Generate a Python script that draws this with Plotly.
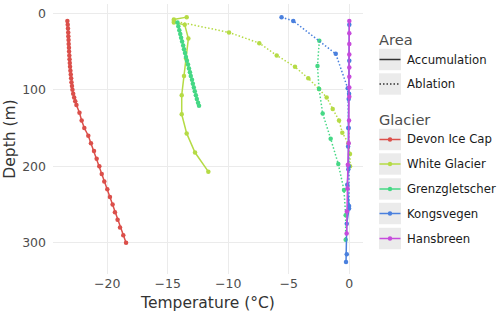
import plotly.graph_objects as go

# ---------------- data ----------------
glaciers = ["Devon Ice Cap", "White Glacier", "Grenzgletscher", "Kongsvegen", "Hansbreen"]
glacier_colors = ["#DB4F4A", "#B5DB45", "#45D885", "#4A80DE", "#C64BDC"]

devon_acc_depth = [10, 15, 20, 25, 30, 35, 40, 45, 50, 55, 60, 65, 70, 75, 80, 85, 90, 95, 100, 105,
                   110, 115, 120, 130, 140, 150, 160, 170, 180, 190, 200, 210, 220, 230, 240, 250,
                   260, 270, 280, 290, 300]
devon_acc_temp = [-23.30, -23.27, -23.25, -23.23, -23.22, -23.20, -23.19, -23.17, -23.16, -23.14,
                  -23.12, -23.10, -23.08, -23.05, -23.02, -22.99, -22.96, -22.92, -22.88, -22.82,
                  -22.74, -22.65, -22.55, -22.30, -22.12, -21.90, -21.57, -21.35, -21.10, -20.88,
                  -20.66, -20.46, -20.25, -20.00, -19.78, -19.56, -19.37, -19.15, -18.95, -18.68,
                  -18.45]

white_acc_depth = [5, 8, 12, 15, 33, 59, 82, 107, 132, 157, 182, 207]
white_acc_temp = [-13.44, -14.5, -14.5, -13.6, -13.3, -13.5, -13.66, -13.85, -13.85, -13.44, -12.75, -11.65]
white_abl_depth = [10, 25, 39, 55, 70, 85, 99, 110, 125, 140, 156, 170, 184, 200]
white_abl_temp = [-14.5, -9.94, -7.44, -6.0, -4.49, -3.39, -2.5, -1.87, -1.37, -0.85, -0.58, -0.08, 0.06, 0.06]

grenz_acc_depth = [12, 17, 22, 27, 32, 37, 42, 47, 52, 57, 62, 67, 72, 77, 82, 87, 92, 97, 102, 107,
                   112, 117, 121]
grenz_acc_temp = [-14.2, -14.13, -14.05, -13.97, -13.9, -13.82, -13.73, -13.66, -13.58, -13.5, -13.42,
                  -13.33, -13.25, -13.17, -13.1, -13.0, -12.93, -12.85, -12.77, -12.68, -12.6, -12.5,
                  -12.42]
grenz_abl_depth = [36, 69, 99, 131, 164, 197, 231, 264, 296]
grenz_abl_temp = [-2.48, -2.63, -2.5, -2.2, -1.54, -0.91, -0.44, -0.3, -0.3]

kong_acc_depth = [15, 62, 105, 112, 150, 174, 204, 224, 255, 275, 315, 325]
kong_acc_temp = [0.0, 0.0, -0.02, -0.05, -0.08, -0.1, -0.08, -0.17, -0.02, -0.21, -0.21, -0.27]
kong_abl_depth = [5, 10, 53, 98, 150, 200, 252]
kong_abl_temp = [-5.6, -4.63, -1.12, -0.13, -0.05, -0.05, -0.02]

hans_acc_depth = [10, 26, 40, 54, 71, 83, 97, 109, 140, 170, 198, 229, 259, 288]
hans_acc_temp = [0.0, 0.0, 0.0, 0.0, 0.0, 0.0, 0.0, 0.0, -0.02, -0.05, -0.12, -0.15, -0.2, -0.22]

area_names = ["Accumulation", "Ablation"]
DOT = "1.5px,2px"
area_dash = ["solid", DOT]

x_tick_vals = [-20, -15, -10, -5, 0]
x_tick_text = ["\u221220", "\u221215", "\u221210", "\u22125", "0"]
y_tick_vals = [0, 100, 200, 300]

series = [
    (0, "solid", devon_acc_temp, devon_acc_depth),
    (1, "solid", white_acc_temp, white_acc_depth),
    (1, DOT, white_abl_temp, white_abl_depth),
    (2, "solid", grenz_acc_temp, grenz_acc_depth),
    (2, DOT, grenz_abl_temp, grenz_abl_depth),
    (3, "solid", kong_acc_temp, kong_acc_depth),
    (3, DOT, kong_abl_temp, kong_abl_depth),
    (4, "solid", hans_acc_temp, hans_acc_depth),
]

# ---------------- layout constants (pixels) ----------------
W, H = 500, 317
PL, PR, PT, PB = 53, 363, 4, 274
y0_px, px_per_m = 13.3, 0.765
x0_px, px_per_deg = 349.3, 12.1
FONT = "DejaVu Sans"

def px_to_paper_x(px):
    return (px - PL) / (PR - PL)

def px_to_paper_y(py):
    return (PB - py) / (PB - PT)

fig = go.Figure()

for gi, dash, xs, ys in series:
    fig.add_trace(go.Scatter(
        x=xs, y=ys, mode="lines+markers",
        line=dict(color=glacier_colors[gi], width=1.5, dash=dash),
        marker=dict(color=glacier_colors[gi], size=4.5),
        showlegend=False, hoverinfo="skip"))

# ---------------- legend (drawn as keys + text, ggplot style) ----------------
key_centers_area = [59.5, 84]
key_centers_glacier = [139.5, 164, 189, 213.5, 238.5]
KEY_L, KEY_R, KEY_HALF = 379, 401, 10.7
TEXT_X = 405

entries = []
for name, dash, cy in zip(area_names, area_dash, key_centers_area):
    entries.append((name, "#333333", dash, False, cy))
for name, col, cy in zip(glaciers, glacier_colors, key_centers_glacier):
    entries.append((name, col, "solid", True, cy))

shapes = []
annotations = []
for name, col, dash, has_marker, cy in entries:
    shapes.append(dict(
        type="rect", xref="paper", yref="paper",
        x0=px_to_paper_x(KEY_L), x1=px_to_paper_x(KEY_R),
        y0=px_to_paper_y(cy + KEY_HALF), y1=px_to_paper_y(cy - KEY_HALF),
        fillcolor="#EBEBEB", line=dict(width=0), layer="below"))
    shapes.append(dict(
        type="line", xref="paper", yref="paper",
        x0=px_to_paper_x(KEY_L + 0.5), x1=px_to_paper_x(KEY_R - 0.5),
        y0=px_to_paper_y(cy), y1=px_to_paper_y(cy),
        line=dict(color=col, width=1.5, dash=dash), layer="above"))
    if has_marker:
        mx = (KEY_L + KEY_R) / 2
        shapes.append(dict(
            type="circle", xref="paper", yref="paper",
            x0=px_to_paper_x(mx - 2.2), x1=px_to_paper_x(mx + 2.2),
            y0=px_to_paper_y(cy + 2.2), y1=px_to_paper_y(cy - 2.2),
            fillcolor=col, line=dict(width=0), layer="above"))
    annotations.append(dict(
        text=name, xref="paper", yref="paper", x=px_to_paper_x(TEXT_X), y=px_to_paper_y(cy),
        xanchor="left", yanchor="middle", showarrow=False,
        font=dict(family=FONT, size=11.7, color="#1A1A1A")))

for title, ty in [("Area", 40), ("Glacier", 120)]:
    annotations.append(dict(
        text=title, xref="paper", yref="paper", x=px_to_paper_x(377), y=px_to_paper_y(ty),
        xanchor="left", yanchor="middle", showarrow=False,
        font=dict(family=FONT, size=14.6, color="#4D4D4D")))

x_left = (PL - x0_px) / px_per_deg
x_right = (PR - x0_px) / px_per_deg
y_top = (PT - y0_px) / px_per_m
y_bottom = (PB - y0_px) / px_per_m

fig.update_layout(
    width=W, height=H,
    margin=dict(l=PL, r=W - PR, t=PT, b=H - PB, pad=0, autoexpand=False),
    plot_bgcolor="white", paper_bgcolor="white",
    font=dict(family=FONT, color="#4D4D4D"),
    shapes=shapes, annotations=annotations,
    showlegend=False,
)
fig.update_xaxes(
    range=[x_left, x_right], tickvals=x_tick_vals, ticktext=x_tick_text,
    showgrid=True, gridcolor="#EBEBEB", gridwidth=1, zeroline=False, showline=False,
    ticks="", tickfont=dict(family=FONT, size=12.5, color="#4D4D4D"),
    title=dict(text="Temperature (°C)", font=dict(family=FONT, size=15.5, color="#333333"), standoff=7),
    automargin=False)
fig.update_yaxes(
    range=[y_bottom, y_top], tickvals=y_tick_vals,
    showgrid=True, gridcolor="#EBEBEB", gridwidth=1, zeroline=False, showline=False,
    ticks="", tickfont=dict(family=FONT, size=12.5, color="#4D4D4D"), ticklabelstandoff=6,
    title=dict(text="Depth (m)", font=dict(family=FONT, size=15.5, color="#333333"), standoff=2),
    automargin=False)

fig.write_html("out.html", config={"displayModeBar": False},
               post_script="document.body.style.margin='0px';")
